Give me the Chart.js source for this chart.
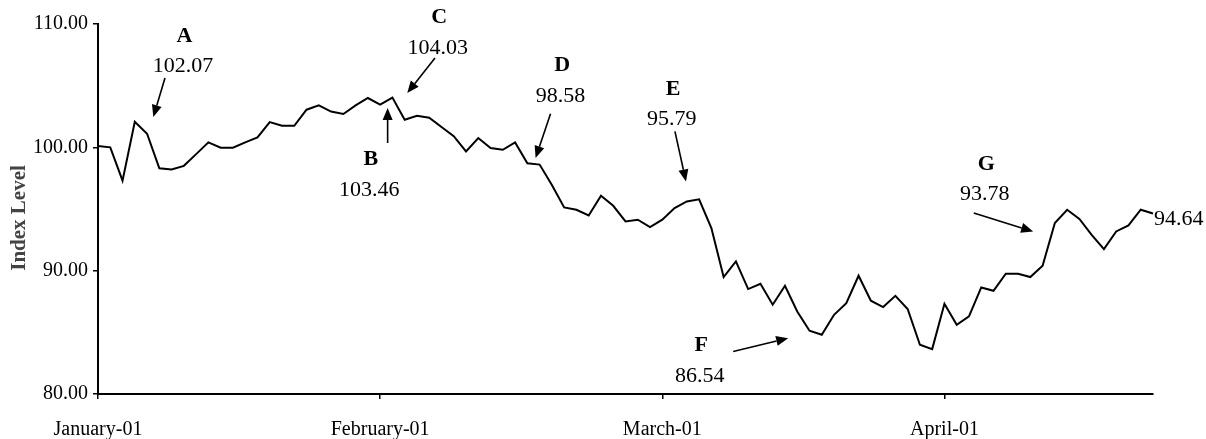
<!DOCTYPE html>
<html><head><meta charset="utf-8">
<script src="https://cdn.jsdelivr.net/npm/chart.js@4.4.1/dist/chart.umd.min.js"></script>
<style>html,body{margin:0;padding:0;background:#fff;overflow:hidden;}</style>
</head><body>
<canvas id="c" width="1206" height="439"></canvas>
<script>
// ---- data ----
const values = [100.1, 100.0, 97.3, 102.07, 101.1, 98.3, 98.2, 98.5, 99.45, 100.4,
  99.97, 99.97, 100.4, 100.8, 102.05, 101.75, 101.75, 103.05, 103.4, 102.9,
  102.7, 103.4, 104.0, 103.46, 104.03, 102.24, 102.56, 102.4, 101.65, 100.9,
  99.67, 100.75, 99.94, 99.8, 100.4, 98.7, 98.6, 96.94, 95.13, 94.94,
  94.48, 96.07, 95.26, 93.99, 94.13, 93.54, 94.13, 95.08, 95.61, 95.79,
  93.45, 89.48, 90.75, 88.51, 88.94, 87.24, 88.78, 86.69, 85.13, 84.8,
  86.42, 87.37, 89.59, 87.56, 87.05, 87.96, 86.89, 83.99, 83.64, 87.32,
  85.61, 86.29, 88.64, 88.37, 89.75, 89.75, 89.48, 90.4, 93.86, 94.94,
  94.19, 92.9, 91.75, 93.18, 93.67, 94.94, 94.64];
const categories = values.map((_, i) => 'day' + (i + 1));   // trading days
const tickPositions = [0, 23, 46, 69];
const tickLabels = ['January-01', 'February-01', 'March-01', 'April-01'];
const yMin = 80, yMax = 110, yStep = 10;
const yTitle = 'Index Level';
const noteLetters = ['A', 'B', 'C', 'D', 'E', 'F', 'G'];
const noteValues = ['102.07', '103.46', '104.03', '98.58', '95.79', '86.54', '93.78'];
const endLabel = '94.64';

// ---- annotation geometry (data space: [categoryIndex, value]) ----
const noteLayout = [
  { num: [6.93, 106.56], from: [5.46, 105.62], to: [4.51, 102.46] },
  { num: [22.11, 96.56], from: [23.61, 100.35], to: [23.61, 103.19] },
  { num: [27.69, 108.05], from: [27.47, 107.24], to: [25.21, 104.40] },
  { num: [37.71, 104.18], from: [36.89, 102.73], to: [35.67, 99.13] },
  { num: [46.76, 102.24], from: [47.03, 101.29], to: [47.93, 97.23] },
  { num: [49.06, 81.48], from: [51.78, 83.45], to: [56.26, 84.53] },
  { num: [72.29, 96.16], from: [71.39, 94.67], to: [76.23, 93.18] }
];

const SERIF = '"Liberation Serif", "Times New Roman", "DejaVu Serif", serif';

function arrow(ctx, x1, y1, x2, y2) {
  const ang = Math.atan2(y2 - y1, x2 - x1);
  const hl = 12, hw = 5;
  const bx = x2 - hl * Math.cos(ang), by = y2 - hl * Math.sin(ang);
  ctx.beginPath();
  ctx.moveTo(x1, y1);
  ctx.lineTo(bx, by);
  ctx.lineWidth = 1.6;
  ctx.strokeStyle = '#000';
  ctx.stroke();
  ctx.beginPath();
  ctx.moveTo(x2, y2);
  ctx.lineTo(bx + hw * Math.sin(ang), by - hw * Math.cos(ang));
  ctx.lineTo(bx - hw * Math.sin(ang), by + hw * Math.cos(ang));
  ctx.closePath();
  ctx.fillStyle = '#000';
  ctx.fill();
}

const notesPlugin = {
  id: 'notes',
  afterDraw(chart) {
    const ctx = chart.ctx, xs = chart.scales.x, ys = chart.scales.y;
    const px = p => [xs.getPixelForValue(p[0]), ys.getPixelForValue(p[1])];
    ctx.save();
    ctx.textAlign = 'center';
    ctx.textBaseline = 'middle';
    ctx.fillStyle = '#000';
    noteLayout.forEach((n, i) => {
      const [nx, ny] = px(n.num);
      ctx.font = '22px ' + SERIF;
      ctx.fillText(noteValues[i], nx, ny);
      ctx.font = 'bold 22px ' + SERIF;
      ctx.fillText(noteLetters[i], nx + 1.5, ny - 30.5);
      const [fx, fy] = px(n.from), [tx, ty] = px(n.to);
      arrow(ctx, fx, fy, tx, ty);
    });
    // end data label
    const last = values.length - 1;
    ctx.font = '22px ' + SERIF;
    ctx.textAlign = 'left';
    ctx.fillStyle = '#000';
    ctx.fillText(endLabel, xs.getPixelForValue(last) + 1, ys.getPixelForValue(values[last]) + 6);
    // y axis title
    ctx.translate(20, 218);
    ctx.rotate(-Math.PI / 2);
    ctx.textAlign = 'center';
    ctx.font = 'bold 21px ' + SERIF;
    ctx.fillStyle = '#444';
    ctx.fillText(yTitle, 0, 0);
    ctx.restore();
  }
};

new Chart(document.getElementById('c'), {
  type: 'line',
  data: {
    labels: categories,
    datasets: [{
      data: values,
      borderColor: '#000',
      borderWidth: 2,
      pointRadius: 0,
      tension: 0,
      fill: false
    }]
  },
  options: {
    responsive: false,
    animation: false,
    layout: { padding: { top: 24, right: 53, bottom: 0, left: 0 } },
    plugins: { legend: { display: false }, tooltip: { enabled: false } },
    scales: {
      x: {
        type: 'category',
        offset: false,
        afterFit: s => { s.height = 45; },
        border: { display: true, color: '#000', width: 2 },
        grid: { display: true, drawOnChartArea: false, drawTicks: true, tickLength: 5, color: '#000', lineWidth: 1.5 },
        ticks: {
          autoSkip: false, maxRotation: 0, minRotation: 0, padding: 19,
          color: '#000', font: { family: SERIF, size: 20 },
          callback: (val, i) => {
            const k = tickPositions.indexOf(i);
            return k >= 0 ? tickLabels[k] : null;
          }
        }
      },
      y: {
        min: yMin, max: yMax,
        afterFit: s => { s.width = 98; },
        border: { display: true, color: '#000', width: 2 },
        grid: { display: true, drawOnChartArea: false, drawTicks: true, tickLength: 5, color: '#000', lineWidth: 1.5 },
        ticks: {
          stepSize: yStep, padding: 5, color: '#000',
          font: { family: SERIF, size: 20 },
          callback: v => Number(v).toFixed(2)
        }
      }
    }
  },
  plugins: [notesPlugin]
});
</script>
</body></html>
